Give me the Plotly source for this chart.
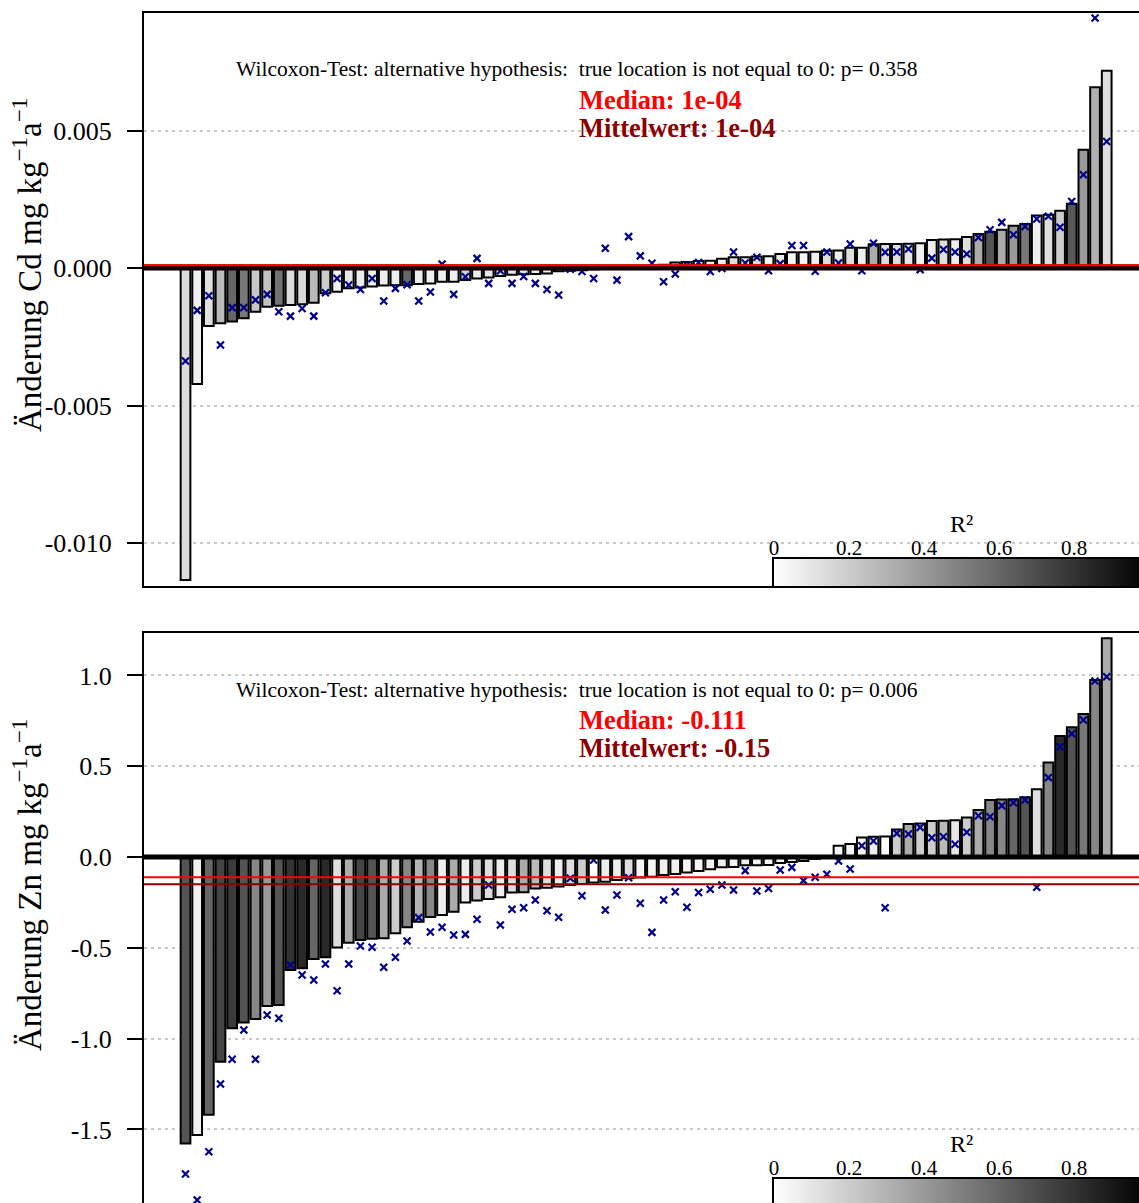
import numpy as np
import plotly.graph_objects as go

# ---------------- data ----------------
# sorted annual change of Cd per site (bars), R² of the trend fit (bar shade),
# and a second change estimate per site (crosses)
cd_change = [
    -0.01135, -0.00422, -0.00211, -0.00201, -0.00195, -0.00183, -0.00159, -0.00141, -0.00137, -0.00135,
    -0.00132, -0.00126, -0.00092, -0.00086, -0.00074, -0.00071, -0.00067, -0.00064, -0.00063, -0.00063,
    -0.00058, -0.00056, -0.00050, -0.00050, -0.00044, -0.00038, -0.00035, -0.00029, -0.00025, -0.00023,
    -0.00022, -0.00020, -0.00012, -0.00010, -0.00008, -0.00005, -0.00003, 0.00000, 0.00003, 0.00006,
    0.00008, 0.00012, 0.00020, 0.00022, 0.00025, 0.00026, 0.00034, 0.00039, 0.00039, 0.00042,
    0.00043, 0.00051, 0.00057, 0.00057, 0.00059, 0.00063, 0.00064, 0.00074, 0.00074, 0.00086,
    0.00087, 0.00087, 0.00088, 0.00090, 0.00102, 0.00104, 0.00105, 0.00113, 0.00124, 0.00132,
    0.00139, 0.00154, 0.00160, 0.00191, 0.00194, 0.00208, 0.00234, 0.00430, 0.00657, 0.00717,
]
cd_r2 = [
    0.14, 0.06, 0.12, 0.27, 0.60, 0.53, 0.22, 0.24, 0.55, 0.14,
    0.15, 0.27, 0.20, 0.06, 0.09, 0.07, 0.07, 0.07, 0.07, 0.60,
    0.07, 0.06, 0.06, 0.06, 0.18, 0.07, 0.09, 0.07, 0.10, 0.10,
    0.07, 0.07, 0.08, 0.08, 0.08, 0.08, 0.08, 0.08, 0.08, 0.08,
    0.06, 0.06, 0.08, 0.07, 0.10, 0.06, 0.06, 0.13, 0.06, 0.13,
    0.04, 0.07, 0.04, 0.04, 0.06, 0.13, 0.07, 0.13, 0.07, 0.33,
    0.13, 0.13, 0.10, 0.06, 0.07, 0.13, 0.07, 0.13, 0.33, 0.67,
    0.33, 0.40, 0.53, 0.06, 0.13, 0.20, 0.65, 0.40, 0.31, 0.13,
]
cd_point = [
    -0.00338, -0.00154, -0.00101, -0.00280, -0.00144, -0.00144, -0.00116, -0.00096, -0.00159, -0.00175,
    -0.00147, -0.00175, -0.00090, -0.00038, -0.00062, -0.00078, -0.00038, -0.00120, -0.00074, -0.00061,
    -0.00120, -0.00087, 0.00014, -0.00096, -0.00032, 0.00035, -0.00056, -0.00010, -0.00056, -0.00031,
    -0.00056, -0.00078, -0.00098, -0.00004, -0.00013, -0.00038, 0.00072, -0.00044, 0.00114, 0.00044,
    0.00017, -0.00050, -0.00022, 0.00010, 0.00020, -0.00013, -0.00002, 0.00058, 0.00018, 0.00039,
    -0.00010, 0.00016, 0.00082, 0.00082, -0.00012, 0.00058, 0.00018, 0.00087, -0.00010, 0.00090,
    0.00057, 0.00058, 0.00069, -0.00006, 0.00036, 0.00067, 0.00058, 0.00051, 0.00111, 0.00139,
    0.00166, 0.00121, 0.00151, 0.00178, 0.00188, 0.00148, 0.00242, 0.00339, 0.00909, 0.00460,
]

zn_change = [
    -1.577, -1.531, -1.420, -1.127, -0.943, -0.912, -0.892, -0.820, -0.815, -0.622,
    -0.613, -0.562, -0.552, -0.499, -0.472, -0.457, -0.450, -0.448, -0.420, -0.387,
    -0.356, -0.331, -0.319, -0.301, -0.251, -0.240, -0.231, -0.222, -0.196, -0.194,
    -0.174, -0.169, -0.163, -0.154, -0.149, -0.141, -0.136, -0.127, -0.117, -0.113,
    -0.109, -0.099, -0.094, -0.085, -0.077, -0.068, -0.057, -0.055, -0.046, -0.045,
    -0.044, -0.033, -0.028, -0.022, -0.010, -0.003, 0.062, 0.072, 0.108, 0.112,
    0.113, 0.152, 0.182, 0.185, 0.198, 0.200, 0.202, 0.218, 0.259, 0.314,
    0.317, 0.318, 0.329, 0.373, 0.521, 0.666, 0.714, 0.787, 0.974, 1.204,
]
zn_r2 = [
    0.67, 0.06, 0.60, 0.73, 0.77, 0.67, 0.47, 0.40, 0.67, 0.80,
    0.84, 0.60, 0.84, 0.13, 0.33, 0.73, 0.67, 0.33, 0.20, 0.47,
    0.30, 0.47, 0.07, 0.33, 0.07, 0.20, 0.13, 0.07, 0.13, 0.33,
    0.27, 0.13, 0.07, 0.13, 0.20, 0.00, 0.07, 0.07, 0.13, 0.04,
    0.04, 0.06, 0.06, 0.04, 0.04, 0.06, 0.07, 0.06, 0.07, 0.06,
    0.05, 0.06, 0.04, 0.06, 0.05, 0.05, 0.04, 0.04, 0.04, 0.07,
    0.00, 0.20, 0.33, 0.20, 0.20, 0.27, 0.10, 0.20, 0.33, 0.47,
    0.47, 0.60, 0.67, 0.13, 0.47, 0.84, 0.67, 0.53, 0.47, 0.33,
]
zn_point = [
    -1.746, -1.889, -1.623, -1.250, -1.114, -0.953, -1.114, -0.870, -0.888, -0.595,
    -0.650, -0.677, -0.589, -0.736, -0.589, -0.490, -0.497, -0.607, -0.552, -0.463,
    -0.334, -0.413, -0.387, -0.430, -0.426, -0.343, -0.154, -0.374, -0.288, -0.279,
    -0.237, -0.296, -0.332, -0.117, -0.213, -0.017, -0.292, -0.209, -0.114, -0.255,
    -0.415, -0.237, -0.191, -0.277, -0.196, -0.178, -0.154, -0.182, -0.075, -0.187,
    -0.173, -0.072, -0.057, -0.130, -0.112, -0.095, -0.022, -0.066, 0.062, 0.088,
    -0.279, 0.130, 0.127, 0.163, 0.106, 0.112, 0.070, 0.136, 0.227, 0.222,
    0.283, 0.299, 0.314, -0.167, 0.437, 0.607, 0.679, 0.754, 0.969, 0.993,
]

# summary statistics shown in the panels
cd_median, cd_mean, cd_p = 1e-4, 1e-4, "0.358"
zn_median, zn_mean, zn_p = -0.111, -0.15, "0.006"

cd_ticks = [0.005, 0.0, -0.005, -0.010]
cd_ticktext = ["0.005", "0.000", "-0.005", "-0.010"]
zn_ticks = [1.0, 0.5, 0.0, -0.5, -1.0, -1.5]
zn_ticktext = ["1.0", "0.5", "0.0", "-0.5", "-1.0", "-1.5"]
r2_ticks = [0, 0.2, 0.4, 0.6, 0.8]
r2_ticktext = ["0", "0.2", "0.4", "0.6", "0.8"]

# ---------------- styling ----------------
W, H = 1139, 1203
FONT = "Liberation Serif"
GRAYS = [[0, "rgb(255,255,255)"], [1, "rgb(0,0,0)"]]
X_RANGE = [-3.56, 81.77]


def fmt(v):
    """R-like short number formatting."""
    if v != 0 and abs(v) < 1e-3:
        return f"{v:.0e}"
    return f"{v:g}"


def frac(px):
    """vertical pixel position -> paper fraction"""
    return 1 - px / H


idx = list(range(len(cd_change)))

fig = go.Figure()

panels = [
    dict(xa="x", ya="y", vals=cd_change, r2=cd_r2, pts=cd_point),
    dict(xa="x2", ya="y2", vals=zn_change, r2=zn_r2, pts=zn_point),
]
for p in panels:
    fig.add_trace(go.Bar(
        x=idx, y=p["vals"], width=0.833,
        marker=dict(color=p["r2"], colorscale=GRAYS, cmin=0, cmax=1,
                    line=dict(color="black", width=2)),
        xaxis=p["xa"], yaxis=p["ya"], showlegend=False, hoverinfo="skip",
    ))
    fig.add_trace(go.Scatter(
        x=idx, y=p["pts"], mode="markers", cliponaxis=False,
        marker=dict(symbol="x-thin", size=7, color="#00008b",
                    line=dict(width=2.2, color="#00008b")),
        xaxis=p["xa"], yaxis=p["ya"], showlegend=False, hoverinfo="skip",
    ))

# R² gradient keys
grad = np.linspace(0, 1, 256)
for xa, ya in (("x3", "y3"), ("x4", "y4")):
    fig.add_trace(go.Heatmap(
        z=[grad], x=grad, y=[0.5], colorscale=GRAYS, zmin=0, zmax=1,
        showscale=False, xaxis=xa, yaxis=ya, hoverinfo="skip",
    ))

axis_font = dict(family=FONT, size=26, color="black")
common_y = dict(
    ticks="outside", ticklen=15, tickwidth=2, tickcolor="black",
    showline=True, linewidth=2, linecolor="black",
    showgrid=True, gridcolor="#c8c8c8", gridwidth=1.5, griddash="3px,4px",
    zeroline=False, tickfont=axis_font, ticklabelstandoff=10,
)
common_x = dict(
    range=X_RANGE, showticklabels=False, ticks="", showgrid=False, zeroline=False,
    showline=True, linewidth=2, linecolor="black",
)
key_x = dict(
    domain=[(774 - 144) / (W - 144), 1], range=[0, (W - 774) / 375],
    side="top", tickvals=r2_ticks, ticktext=r2_ticktext, ticks="",
    tickfont=dict(family=FONT, size=21, color="black"), ticklabelstandoff=-6,
    showline=True, linewidth=2, linecolor="black", showgrid=False, zeroline=False,
)
key_y = dict(range=[0, 1], showticklabels=False, ticks="", showgrid=False,
             zeroline=False, showline=True, linewidth=2, linecolor="black")

fig.update_layout(
    width=W, height=H,
    margin=dict(l=144, r=0, t=0, b=0),
    paper_bgcolor="white", plot_bgcolor="white",
    barmode="overlay",
    xaxis=dict(domain=[0, 1], anchor="y", mirror=True, **common_x),
    yaxis=dict(domain=[frac(586), frac(13)], anchor="x",
               range=[-0.011564, 0.009273],
               tickvals=cd_ticks, ticktext=cd_ticktext, **common_y),
    xaxis2=dict(domain=[0, 1], anchor="y2", side="top", **common_x),
    yaxis2=dict(domain=[0, frac(633)], anchor="x2",
                range=[-1.9053, 1.2335],
                tickvals=zn_ticks, ticktext=zn_ticktext, **common_y),
    xaxis3=dict(anchor="y3", **key_x),
    yaxis3=dict(domain=[frac(586), frac(559)], anchor="x3", **key_y),
    xaxis4=dict(anchor="y4", **key_x),
    yaxis4=dict(domain=[0, frac(1179)], anchor="x4", **key_y),
)

# zero line, mean and median lines
shapes = []
for ya, med, mean in (("y", cd_median, cd_mean), ("y2", zn_median, zn_mean)):
    xd = "x domain" if ya == "y" else "x2 domain"
    shapes.append(dict(type="line", xref=xd, yref=ya, x0=0, x1=1, y0=0, y1=0,
                       line=dict(color="black", width=5), layer="above"))
    shapes.append(dict(type="line", xref=xd, yref=ya, x0=0, x1=1, y0=mean, y1=mean,
                       line=dict(color="#8b0000", width=2), layer="above"))
    shapes.append(dict(type="line", xref=xd, yref=ya, x0=0, x1=1, y0=med, y1=med,
                       line=dict(color="#ff0000", width=2), layer="above"))
fig.update_layout(shapes=shapes)

# texts
ann = []
text_x = (577 - 144) / (W - 144)
panel_text = [
    (cd_p, cd_median, cd_mean, 69, 100, 128, "Cd", 265, 524),
    (zn_p, zn_median, zn_mean, 690, 720, 748, "Zn", 885, 1144),
]
for pval, med, mean, y_w, y_m, y_a, elem, y_title, y_r2 in panel_text:
    ann.append(dict(
        text=f"Wilcoxon-Test: alternative hypothesis:  true location is not equal to 0: p= {pval}",
        xref="paper", yref="paper", x=text_x, y=frac(y_w), xanchor="center", yanchor="middle",
        showarrow=False, font=dict(family=FONT, size=21.5, color="black")))
    ann.append(dict(
        text=f"Median: {fmt(med)}", xref="paper", yref="paper", x=text_x, y=frac(y_m),
        xanchor="left", yanchor="middle", showarrow=False,
        font=dict(family=FONT, size=26.5, color="#ff0000", weight="bold")))
    ann.append(dict(
        text=f"Mittelwert: {fmt(mean)}", xref="paper", yref="paper", x=text_x, y=frac(y_a),
        xanchor="left", yanchor="middle", showarrow=False,
        font=dict(family=FONT, size=26.5, color="#8b0000", weight="bold")))
    ann.append(dict(
        text=f"Änderung {elem} mg kg<sup>−1</sup>a<sup>−1</sup>",
        xref="paper", yref="paper", x=(27 - 144) / (W - 144), y=frac(y_title),
        xanchor="center", yanchor="middle", textangle=-90, showarrow=False,
        font=dict(family=FONT, size=33, color="black")))
    ann.append(dict(
        text="R²", xref="x3", yref="paper", x=0.5, y=frac(y_r2),
        xanchor="center", yanchor="middle", showarrow=False,
        font=dict(family=FONT, size=24, color="black")))
fig.update_layout(annotations=ann)

fig.write_html("out.html")
